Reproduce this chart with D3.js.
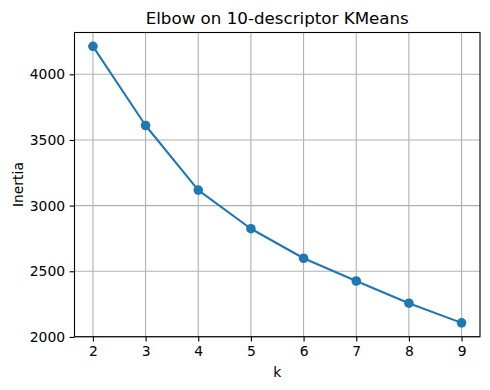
<!DOCTYPE html>
<html><head><meta charset="utf-8">
<script src="https://cdn.jsdelivr.net/npm/d3@7/dist/d3.min.js"></script>
<style>body{margin:0;background:#fff}svg{display:block;font-family:"DejaVu Sans",sans-serif}</style>
</head><body>
<svg id="c" width="490" height="390"></svg>
<script>
const ks = [2, 3, 4, 5, 6, 7, 8, 9];
const inertia = [4213, 3610, 3118, 2824, 2599, 2426, 2257, 2107];
const yTicks = [2000, 2500, 3000, 3500, 4000];
const xTicks = [2, 3, 4, 5, 6, 7, 8, 9];
const title = "Elbow on 10-descriptor KMeans";
const xLabel = "k";
const yLabel = "Inertia";

const L = 74.5, R = 480, T = 32.5, B = 336.7;
const svg = d3.select("#c");
const xmin = d3.min(ks), xmax = d3.max(ks), xm = (xmax - xmin) * 0.05;
const ymin = d3.min(inertia), ymax = d3.max(inertia), ym = (ymax - ymin) * 0.05;
const x = d3.scaleLinear().domain([xmin - xm, xmax + xm]).range([L, R]);
const y = d3.scaleLinear().domain([ymin - ym, ymax + ym]).range([B, T]);

// grid
const g = svg.append("g");
g.selectAll(".gx").data(xTicks).join("line")
  .attr("x1", d => x(d)).attr("x2", d => x(d)).attr("y1", T).attr("y2", B)
  .attr("stroke", "#b0b0b0").attr("stroke-width", 1.1);
g.selectAll(".gy").data(yTicks).join("line")
  .attr("y1", d => y(d)).attr("y2", d => y(d)).attr("x1", L).attr("x2", R)
  .attr("stroke", "#b0b0b0").attr("stroke-width", 1.1);

// axes
const xa = svg.append("g").attr("transform", `translate(0,${B})`)
  .call(d3.axisBottom(x).tickValues(xTicks).tickSize(4.9).tickPadding(4.5).tickFormat(d3.format("d")));
const ya = svg.append("g").attr("transform", `translate(${L},0)`)
  .call(d3.axisLeft(y).tickValues(yTicks).tickSize(4.9).tickPadding(4.5).tickFormat(d3.format("d")));
[xa, ya].forEach(a => {
  a.select(".domain").remove();
  a.selectAll(".tick line").attr("stroke", "#000").attr("stroke-width", 1.1);
  a.selectAll(".tick text").attr("fill", "#000").attr("font-size", "13.9px").attr("font-family", "DejaVu Sans");
});

// line + markers
svg.append("path").datum(ks.map((k, i) => [k, inertia[i]]))
  .attr("d", d3.line().x(d => x(d[0])).y(d => y(d[1])))
  .attr("fill", "none").attr("stroke", "#1f77b4").attr("stroke-width", 2.08).attr("stroke-linejoin", "round");
svg.selectAll(".pt").data(ks).join("circle")
  .attr("cx", d => x(d)).attr("cy", (d, i) => y(inertia[i])).attr("r", 4.8).attr("fill", "#1f77b4");

// spines
svg.append("rect").attr("x", L).attr("y", T).attr("width", R - L).attr("height", B - T)
  .attr("fill", "none").attr("stroke", "#000").attr("stroke-width", 1.1);

// labels
svg.append("text").attr("x", (L + R) / 2).attr("y", 24).attr("text-anchor", "middle")
  .attr("font-size", "16.7px").attr("fill", "#000").text(title);
svg.append("text").attr("x", (L + R) / 2).attr("y", 377).attr("text-anchor", "middle")
  .attr("font-size", "13.9px").attr("fill", "#000").text(xLabel);
svg.append("text").attr("transform", `translate(22.5,${(T + B) / 2}) rotate(-90)`).attr("text-anchor", "middle")
  .attr("font-size", "13.9px").attr("fill", "#000").text(yLabel);
</script>
</body></html>
